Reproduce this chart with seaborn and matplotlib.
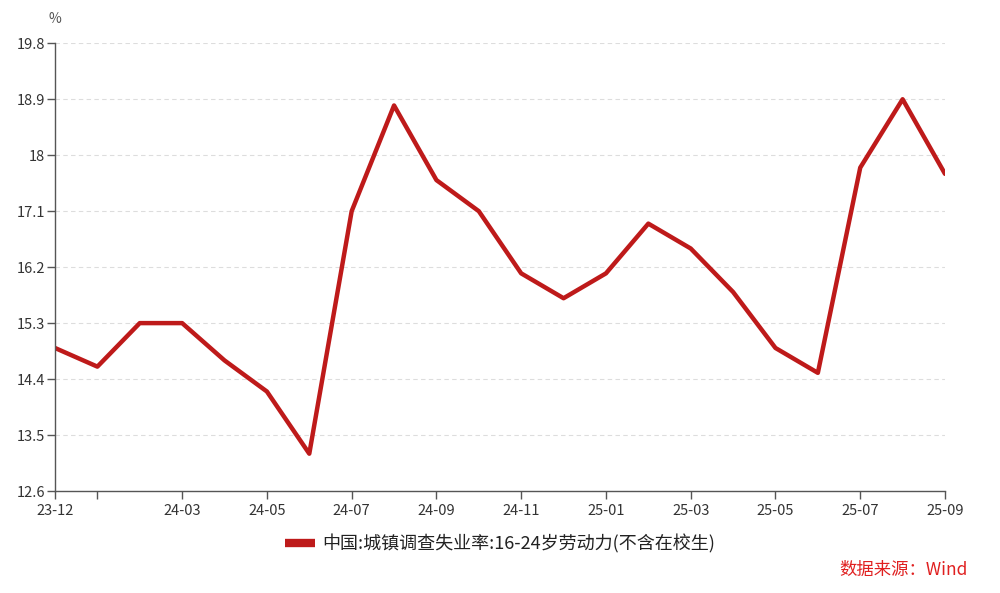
import numpy as np
import pandas as pd
import matplotlib
matplotlib.use("Agg")
import matplotlib.pyplot as plt
import seaborn as sns

# === 数据 ===
meses = ["23-12", "24-01", "24-02", "24-03", "24-04", "24-05", "24-06", "24-07",
         "24-08", "24-09", "24-10", "24-11", "24-12", "25-01", "25-02", "25-03",
         "25-04", "25-05", "25-06", "25-07", "25-08", "25-09"]
valores = [14.9, 14.6, 15.3, 15.3, 14.7, 14.2, 13.2, 17.1, 18.8, 17.6, 17.1, 16.1,
           15.7, 16.1, 16.9, 16.5, 15.8, 14.9, 14.5, 17.8, 18.9, 17.7]
serie = "中国:城镇调查失业率:16-24岁劳动力(不含在校生)"
y_ticks = [12.6, 13.5, 14.4, 15.3, 16.2, 17.1, 18, 18.9, 19.8]
x_tick_pos = [0, 1, 3, 5, 7, 9, 11, 13, 15, 17, 19, 21]

df = pd.DataFrame({"x": np.arange(len(meses)), "valor": valores, "serie": serie})

sns.set_style("white")
plt.rcParams['font.family'] = ['Noto Sans CJK SC', 'DejaVu Sans']

fig = plt.figure(figsize=(10, 5.93), dpi=100)
ax = fig.add_axes([0.055, 0.172, 0.89, 0.755])

sns.lineplot(data=df, x="x", y="valor", hue="serie", palette=["#BE1A1A"],
             linewidth=3.2, ax=ax, legend=True)

ax.set_xlim(0, len(meses) - 1)
ax.set_ylim(12.6, 19.8)
ax.set_yticks(y_ticks)
ax.set_yticklabels([f"{v:g}" for v in y_ticks])
ax.set_xticks(x_tick_pos)
ax.set_xticklabels(["" if i == 1 else meses[i] for i in x_tick_pos])
ax.set_xlabel("")
ax.set_ylabel("")

for y in y_ticks:
    ax.axhline(y, color="#dddddd", linestyle=(0, (4, 3)), linewidth=0.8, zorder=0)

for s in ["top", "right"]:
    ax.spines[s].set_visible(False)
for s in ["left", "bottom"]:
    ax.spines[s].set_color("#555555")
    ax.spines[s].set_linewidth(1.0)
ax.tick_params(axis="both", bottom=True, left=True, colors="#555555",
               labelcolor="#333333", labelsize=10.5, length=6, width=1.0,
               direction="out")
ax.tick_params(axis="x", pad=3)
ax.tick_params(axis="y", pad=1)

ax.text(0, 1.045, "%", transform=ax.transAxes, fontsize=10, color="#555555", ha="center")

leg = ax.legend(loc="upper center", bbox_to_anchor=(0.5, -0.06), frameon=False,
                fontsize=13, handlelength=1.7, handletextpad=0.4)
for t in leg.get_texts():
    t.set_color("#222222")
for h in leg.get_lines():
    h.set_linewidth(6)
    h.set_solid_capstyle("butt")

fig.text(0.968, 0.03, "数据来源：Wind", color="#E02020", fontsize=12.5, ha="right")

plt.savefig("out.png", dpi=100)
